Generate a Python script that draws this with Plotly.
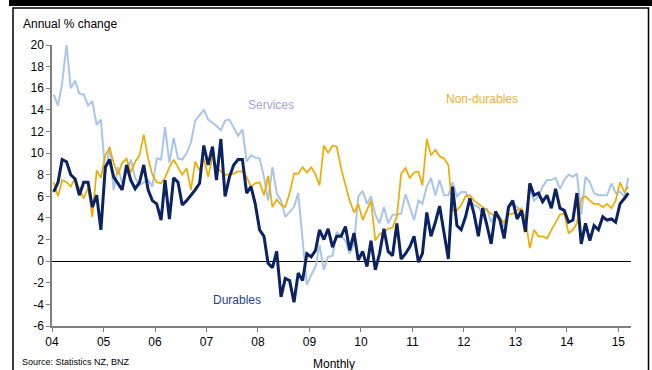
import pandas as pd
import plotly.graph_objects as go

# Monthly data, Jan 2004 - Mar 2015 (annual % change)
start_month = "2004-01-01"
n_months = 135

services = [
    15.4, 14.4, 16.5, 20.0, 16.0, 16.7, 15.5, 15.4, 14.4, 14.8, 12.6, 13.1,
    8.1, 10.6, 6.6, 8.7, 7.2, 8.2, 9.4, 7.7, 7.0, 7.3, 7.5, 6.9,
    9.5, 9.4, 12.4, 9.1, 11.4, 9.5, 9.4, 10.0, 11.0, 13.0, 13.5, 14.0,
    13.1, 12.8, 12.5, 12.1, 13.0, 13.1, 12.4, 11.6, 12.2, 9.2, 9.8, 9.6,
    9.5, 7.8, 5.6, 8.7, 6.3, 5.6, 4.1, 4.6, 5.0, 6.3, 2.0, -2.2,
    -1.3, -0.5, 1.5, -0.8, 0.4, 0.5, 2.7, 2.3, 1.9, 0.7, 1.6, 6.0,
    6.5, 5.3, 6.0, 4.3, 3.5, 5.0, 3.5, 4.3, 4.3, 4.4, 6.2, 5.0,
    3.8, 5.6, 5.3, 6.9, 7.7, 6.1, 7.5, 6.1, 6.1, 7.3, 6.0, 6.4,
    6.4, 5.6, 5.2, 5.0, 4.4, 4.9, 3.6, 4.4, 4.1, 3.2, 5.0, 5.3,
    5.0, 4.7, 4.1, 6.7, 5.6, 6.0, 6.9, 7.5, 7.5, 7.7, 6.7, 7.5,
    8.0, 7.8, 8.1, 4.3, 7.8, 7.3, 6.3, 6.1, 6.1, 6.1, 7.2, 6.3,
    6.4, 6.0, 7.7,
]

non_durables = [
    7.3, 6.0, 7.5, 7.3, 6.9, 7.7, 6.7, 5.8, 6.8, 4.1, 8.4, 7.7,
    9.8, 10.5, 9.1, 8.0, 9.1, 9.5, 8.2, 9.2, 9.8, 11.7, 9.5, 8.0,
    7.3, 7.2, 7.7, 8.7, 9.4, 8.7, 8.0, 8.6, 6.6, 9.2, 8.4, 9.5,
    7.8, 9.7, 8.7, 8.3, 8.0, 8.0, 8.1, 8.3, 8.3, 7.8, 6.9, 7.2,
    7.3, 6.1, 7.9, 5.0, 5.7, 5.2, 5.0, 6.3, 8.1, 8.1, 8.7, 8.2,
    8.7, 8.0, 7.0, 10.7, 10.0, 10.7, 10.6, 8.6, 7.2, 5.6, 4.5, 5.3,
    3.8, 4.7, 5.6, 1.9, 2.5, 2.7, 3.0, 3.1, 4.1, 8.1, 8.6, 7.7,
    8.2, 8.3, 7.0, 11.3, 9.8, 10.3, 9.7, 9.5, 8.9, 4.7, 4.7, 5.2,
    6.0, 6.1, 5.6, 5.3, 5.0, 4.7, 4.4, 4.1, 3.9, 3.6, 4.3, 4.4,
    4.7, 4.9, 3.9, 1.2, 2.9, 2.3, 2.3, 2.1, 2.9, 3.6, 4.3, 4.4,
    2.6, 2.9, 3.5, 5.8, 6.0, 5.6, 5.3, 5.3, 5.0, 5.3, 4.9, 5.6,
    7.3, 6.4, 6.9,
]

durables = [
    6.4, 7.3, 9.4, 9.2, 8.0, 7.6, 6.1, 7.3, 7.3, 5.0, 6.1, 2.9,
    8.7, 9.4, 7.8, 7.2, 6.6, 8.9, 7.5, 6.7, 7.3, 8.9, 6.6, 5.6,
    5.3, 3.8, 7.5, 3.9, 7.7, 7.3, 5.2, 5.6, 6.1, 6.6, 7.2, 10.7,
    8.9, 10.6, 7.5, 11.3, 6.0, 7.8, 8.9, 9.4, 9.4, 6.3, 6.9, 5.3,
    2.9, 2.3, -0.2, -0.6, 0.9, -3.3, -1.6, -1.8, -3.8, -1.1, -1.8, 0.7,
    0.4, 1.0, 2.9, 2.0, 3.0, 1.3, 2.3, 2.3, 3.2, 1.0, 2.6, 0.1,
    0.9, -0.5, 1.9, -0.8, 0.7, 3.0, 0.9, 0.5, 3.5, 0.2, 0.7, 1.3,
    2.3, -0.1, 0.7, 4.5, 2.3, 3.6, 5.1, 2.5, 0.2, 6.9, 3.3, 2.9,
    4.1, 5.8, 4.4, 2.3, 4.9, 3.3, 1.6, 4.6, 3.8, 2.1, 5.0, 5.6,
    3.9, 4.7, 2.7, 7.2, 6.1, 6.3, 5.5, 6.1, 4.9, 6.7, 4.9, 4.7,
    3.6, 3.8, 6.3, 1.6, 3.5, 1.9, 3.3, 2.9, 4.1, 3.8, 3.9, 3.6,
    5.3, 5.8, 6.3,
]

y_ticks = [-6, -4, -2, 0, 2, 4, 6, 8, 10, 12, 14, 16, 18, 20]
y_tick_labels = ["-6", "-4", "-2", "0", "2", "4", "6", "8", "10", "12", "14", "16", "18", "20"]

dates = pd.date_range(start_month, periods=n_months, freq="MS") + pd.Timedelta(days=12)

C_SERV = "#a9c5ea"
C_NOND = "#f2a900"
C_DUR = "#0b2362"
FONT = "Liberation Sans, Arial, sans-serif"

fig = go.Figure()
fig.add_trace(go.Scatter(x=dates, y=services, mode="lines", name="Services",
                         line=dict(color=C_SERV, width=2)))
fig.add_trace(go.Scatter(x=dates, y=non_durables, mode="lines", name="Non-durables",
                         line=dict(color=C_NOND, width=1.7)))
fig.add_trace(go.Scatter(x=dates, y=durables, mode="lines", name="Durables",
                         line=dict(color=C_DUR, width=3)))

W, H = 652, 370
L, R, T, B = 52, 21, 45, 44
pw, ph = W - L - R, H - T - B


def px(x):
    return (x - L) / pw


def py(y):
    return (H - B - y) / ph


fig.update_layout(
    width=W, height=H,
    margin=dict(l=L, r=R, t=T, b=B),
    paper_bgcolor="white", plot_bgcolor="white",
    showlegend=False,
    font=dict(family=FONT, size=12, color="#000000"),
    xaxis=dict(
        type="date",
        range=["2004-01-01", "2015-04-01"],
        tick0="2004-01-01", dtick="M12", tickformat="%y",
        showgrid=False, zeroline=False,
        showline=True, linecolor="#808080", linewidth=1.5,
        ticks="outside", ticklen=4, tickcolor="#808080", tickwidth=1,
        tickfont=dict(size=12, color="#000000"),
    ),
    yaxis=dict(
        range=[-6, 20],
        tickvals=y_ticks, ticktext=y_tick_labels,
        showgrid=False,
        zeroline=True, zerolinecolor="#000000", zerolinewidth=1,
        showline=True, linecolor="#808080", linewidth=1.5,
        ticks="outside", ticklen=4, tickcolor="#808080", tickwidth=1,
        tickfont=dict(size=12, color="#000000"),
    ),
    shapes=[
        dict(type="rect", xref="paper", yref="paper",
             x0=px(9), x1=px(652), y0=py(6), y1=py(0),
             fillcolor="#000000", line=dict(width=0)),
        dict(type="rect", xref="paper", yref="paper",
             x0=px(13), x1=px(648.5), y0=py(375), y1=py(8),
             line=dict(color="#000000", width=1.5), fillcolor="rgba(0,0,0,0)"),
    ],
    annotations=[
        dict(text="Annual % change", xref="paper", yref="paper",
             x=px(21), y=py(24), xanchor="left", yanchor="middle",
             showarrow=False, font=dict(size=12, color="#000000")),
        dict(text="Services", xref="paper", yref="paper",
             x=px(271), y=py(105), xanchor="center", yanchor="middle",
             showarrow=False, font=dict(size=12, color="#a3a3e3")),
        dict(text="Non-durables", xref="paper", yref="paper",
             x=px(482), y=py(99), xanchor="center", yanchor="middle",
             showarrow=False, font=dict(size=12, color="#f0b030")),
        dict(text="Durables", xref="paper", yref="paper",
             x=px(237), y=py(300), xanchor="center", yanchor="middle",
             showarrow=False, font=dict(size=12, color="#1f3f8f")),
        dict(text="Monthly", xref="paper", yref="paper",
             x=px(334), y=py(364), xanchor="center", yanchor="middle",
             showarrow=False, font=dict(size=12, color="#000000")),
        dict(text="Source: Statistics NZ, BNZ", xref="paper", yref="paper",
             x=px(20), y=py(362), xanchor="left", yanchor="middle",
             showarrow=False, font=dict(size=9, color="#000000")),
    ],
)

fig.write_html("out.html")
